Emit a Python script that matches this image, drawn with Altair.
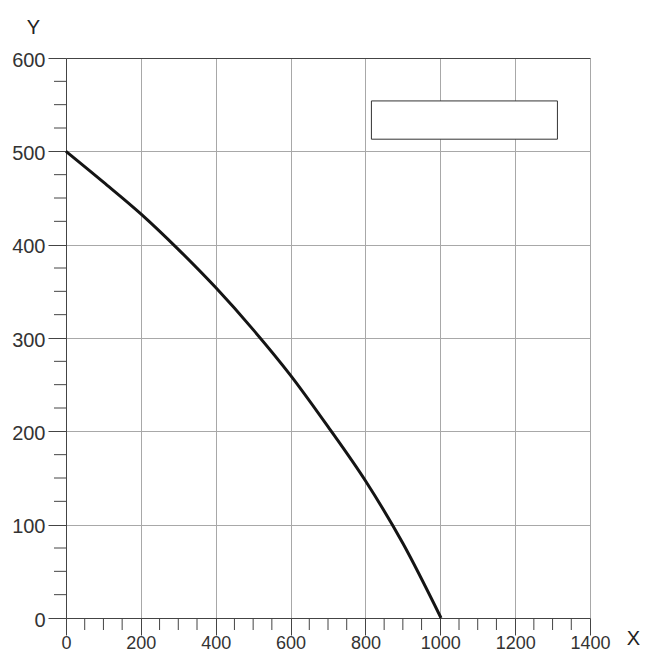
import altair as alt
import pandas as pd

# curve values
curve_x = [0, 100, 200, 300, 400, 500, 600, 700, 800, 900, 1002]
curve_y = [500, 467, 433, 395, 354, 309, 260, 205, 147, 80, 0]

# empty legend box (data coordinates)
box_x = [816]
box_x2 = [1313]
box_y = [513]
box_y2 = [554]

x_major = list(range(0, 1401, 200))
y_major = list(range(0, 601, 100))
x_minor = [v for v in range(0, 1401, 50) if v % 200 != 0]
y_minor = [v for v in range(0, 601, 25) if v % 100 != 0]

curve = pd.DataFrame({"x": curve_x, "y": curve_y})
box = pd.DataFrame({"x": box_x, "x2": box_x2, "y": box_y, "y2": box_y2})
xmin_df = pd.DataFrame({"x": x_minor})
ymin_df = pd.DataFrame({"y": y_minor})

FONT = "Liberation Sans"
DARK = "#444444"

x_axis = alt.Axis(
    values=x_major,
    format="d",
    tickSize=17,
    grid=True,
    gridColor="#a8a8a8",
    domainColor=DARK,
    tickColor=DARK,
    labelFont=FONT,
    labelFontSize=18,
    labelColor="#333333",
    labelPadding=-1,
    labelFlush=False,
    title="X",
    titleFont=FONT,
    titleFontSize=20,
    titleFontWeight="normal",
    titleColor="#222222",
    titleAngle=0,
    titleX=567,
    titleY=20,
    titleAlign="center",
    titleBaseline="middle",
)

y_axis = alt.Axis(
    values=y_major,
    format="d",
    tickSize=18,
    grid=True,
    gridColor={"condition": {"test": "datum.value === 600", "value": DARK}, "value": "#a8a8a8"},
    domainColor=DARK,
    tickColor=DARK,
    labelFont=FONT,
    labelFontSize=20,
    labelColor="#333333",
    labelPadding=3,
    labelOffset=2,
    labelFlush=False,
    title="Y",
    titleFont=FONT,
    titleFontSize=20,
    titleFontWeight="normal",
    titleColor="#222222",
    titleAngle=0,
    titleX=-33,
    titleY=-31,
    titleAlign="center",
    titleBaseline="middle",
)

xs = alt.Scale(domain=[0, 1400], nice=False, zero=False)
ys = alt.Scale(domain=[0, 600], nice=False, zero=False)

line = alt.Chart(curve).mark_line(color="#141414", strokeWidth=3, interpolate="monotone").encode(
    x=alt.X("x:Q", scale=xs, axis=x_axis),
    y=alt.Y("y:Q", scale=ys, axis=y_axis),
)

rect = alt.Chart(box).mark_rect(fill="white", stroke="#333333", strokeWidth=1).encode(
    x=alt.X("x:Q", scale=xs, axis=x_axis),
    x2="x2:Q",
    y=alt.Y("y:Q", scale=ys, axis=y_axis),
    y2="y2:Q",
)

x_minor_ticks = alt.Chart(xmin_df).mark_rule(color=DARK, strokeWidth=1).encode(
    x=alt.X("x:Q", scale=xs, axis=x_axis),
    y=alt.value(560),
    y2=alt.value(572),
)

y_minor_ticks = alt.Chart(ymin_df).mark_rule(color=DARK, strokeWidth=1).encode(
    y=alt.Y("y:Q", scale=ys, axis=y_axis),
    x=alt.value(-12),
    x2=alt.value(0),
)

chart = alt.layer(line, rect, x_minor_ticks, y_minor_ticks).properties(
    width=524,
    height=560,
    autosize=alt.AutoSizeParams(type="none"),
    padding={"left": 58, "top": 50, "right": 50, "bottom": 35},
    background="white",
).configure_view(stroke=None)

chart.save("out.html", embed_options={"renderer": "svg", "actions": False})
